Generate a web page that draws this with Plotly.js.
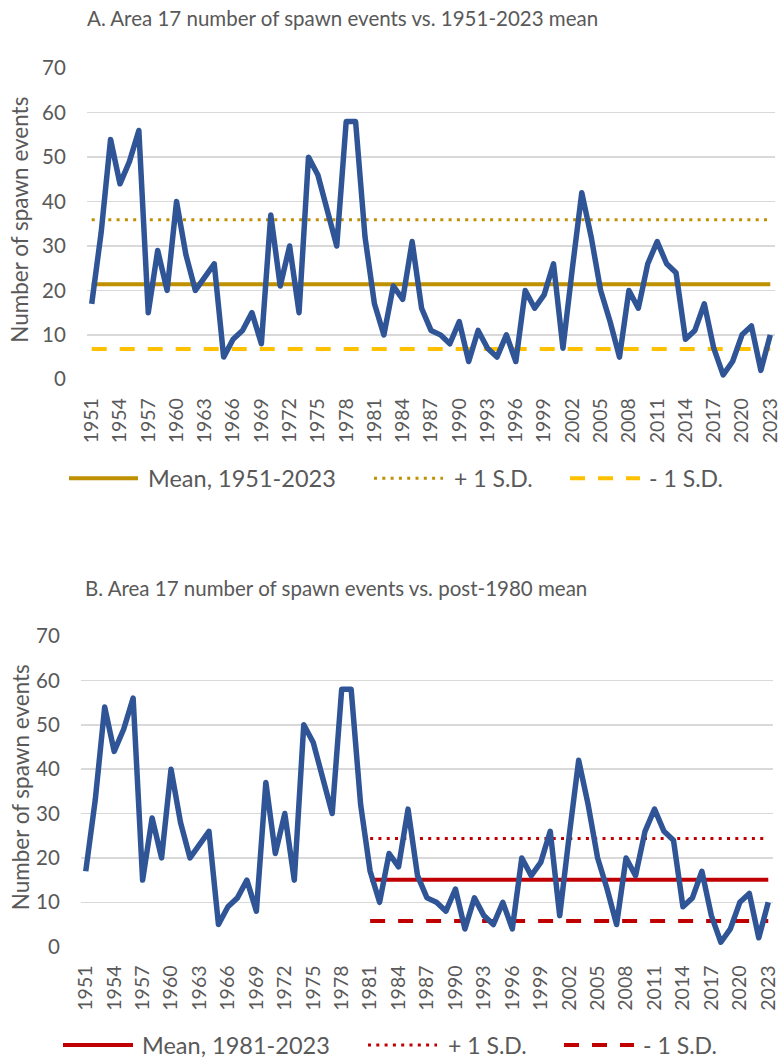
<!DOCTYPE html>
<html>
<head>
<meta charset="utf-8">
<script src="https://cdn.plot.ly/plotly-3.0.1.min.js"></script>
<style>
  html, body { margin: 0; padding: 0; background: #fff; }
  #chart { width: 780px; height: 1059px; }
  .scatterlayer .js-line { stroke-linejoin: round !important; }
</style>
</head>
<body>
<div id="chart"></div>
<script>
// ---------------- data ----------------
const years = [1951,1952,1953,1954,1955,1956,1957,1958,1959,1960,
               1961,1962,1963,1964,1965,1966,1967,1968,1969,1970,
               1971,1972,1973,1974,1975,1976,1977,1978,1979,1980,
               1981,1982,1983,1984,1985,1986,1987,1988,1989,1990,
               1991,1992,1993,1994,1995,1996,1997,1998,1999,2000,
               2001,2002,2003,2004,2005,2006,2007,2008,2009,2010,
               2011,2012,2013,2014,2015,2016,2017,2018,2019,2020,
               2021,2022,2023];
const spawnEvents = [17,33,54,44,49,56,15,29,20,40,
                     28,20,23,26,5,9,11,15,8,37,
                     21,30,15,50,46,38,30,58,58,32,
                     17,10,21,18,31,16,11,10,8,13,
                     4,11,7,5,10,4,20,16,19,26,
                     7,25,42,32,20,13,5,20,16,26,
                     31,26,24,9,11,17,7,1,4,10,
                     12,2,10];
const tickYears = [1951,1954,1957,1960,1963,1966,1969,1972,1975,1978,1981,1984,1987,
                   1990,1993,1996,1999,2002,2005,2008,2011,2014,2017,2020,2023];
const tickLabels = tickYears.map(String);

// Reference statistics
const meanAll = 21.4, plusSDAll = 35.9, minusSDAll = 6.8;      // 1951-2023
const meanPost = 15.1, plusSDPost = 24.4, minusSDPost = 5.8;   // 1981-2023
const periodAll = [1951, 2023];
const periodPost = [1981, 2023];

const titleA = 'A. Area 17 number of spawn events vs. 1951-2023 mean';
const titleB = 'B. Area 17 number of spawn events vs. post-1980 mean';
const yTitle = 'Number of spawn events';
const legendA = ['Mean, 1951-2023', '+ 1 S.D.', '- 1 S.D.'];
const legendB = ['Mean, 1981-2023', '+ 1 S.D.', '- 1 S.D.'];

// ---------------- style ----------------
const W = 780, H = 1059;
const px = x => x / W;
const py = y => 1 - y / H;
const FONT = 'Lato, "Open Sans", sans-serif';
const TXT = '#595959';
const BLUE = '#2F5597';
const GOLD = '#BF9000';
const YELLOW = '#FFC000';
const RED = '#C00000';
const DOT = '3px,5.3px';
const DASH = '15px,13px';

function xAxis(domain, anchor) {
  return {
    domain: domain, anchor: anchor, type: 'linear',
    range: [1950.5, 2023.5], showgrid: false, zeroline: false, showline: false,
    tickmode: 'array', tickvals: tickYears, ticktext: tickLabels, tickangle: -90,
    ticks: 'outside', ticklen: 10, tickcolor: 'rgba(0,0,0,0)',
    ticklabeloverflow: 'allow',
    tickfont: {family: FONT, size: 19.5, color: TXT}, fixedrange: true
  };
}
function yAxis(domain, anchor) {
  return {
    domain: domain, anchor: anchor, range: [0, 70], dtick: 10, tick0: 0,
    showgrid: true, gridcolor: '#D9D9D9', gridwidth: 1.5, zeroline: false, showline: false,
    ticks: 'outside', ticklen: 16, tickcolor: 'rgba(0,0,0,0)',
    tickfont: {family: FONT, size: 20.5, color: TXT}, fixedrange: true
  };
}

function hline(xa, ya, xs, val, color, width, dash) {
  return {x: xs, y: [val, val], xaxis: xa, yaxis: ya, mode: 'lines', type: 'scatter',
          line: {color: color, width: width, dash: dash}, hoverinfo: 'skip', showlegend: false};
}

const traces = [
  hline('x', 'y', periodAll, meanAll, GOLD, 4, 'solid'),
  hline('x', 'y', periodAll, plusSDAll, GOLD, 3, DOT),
  hline('x', 'y', periodAll, minusSDAll, YELLOW, 4, DASH),
  {x: years, y: spawnEvents, xaxis: 'x', yaxis: 'y', type: 'scatter', mode: 'lines',
   line: {color: BLUE, width: 5.5}, showlegend: false},
  hline('x2', 'y2', periodPost, meanPost, RED, 4, 'solid'),
  hline('x2', 'y2', periodPost, plusSDPost, RED, 3, DOT),
  hline('x2', 'y2', periodPost, minusSDPost, RED, 4, DASH),
  {x: years, y: spawnEvents, xaxis: 'x2', yaxis: 'y2', type: 'scatter', mode: 'lines',
   line: {color: BLUE, width: 5.5}, showlegend: false}
];

// geometry (pixels)
const A = {l: 87, r: 775, t: 68.3, b: 379.3};
const B = {l: 81, r: 773, t: 636, b: 946.7};

function legendShapes(y, items) {
  return items.map(it => ({type: 'line', xref: 'paper', yref: 'paper',
    x0: px(it[0]), x1: px(it[1]), y0: py(y), y1: py(y),
    line: {color: it[2], width: it[3], dash: it[4]}}));
}
function textAnn(x, y, text, size, anchor, angle) {
  return {xref: 'paper', yref: 'paper', x: px(x), y: py(y), text: text, showarrow: false,
          xanchor: anchor || 'left', yanchor: 'middle', textangle: angle || 0,
          font: {family: FONT, size: size, color: TXT}};
}

const shapes = [].concat(
  legendShapes(478.3, [[69, 138, GOLD, 4, 'solid'], [374, 443, GOLD, 3, DOT], [570, 640, YELLOW, 4, DASH]]),
  legendShapes(1045, [[63, 133, RED, 4, 'solid'], [368, 437, RED, 3, DOT], [564, 634, RED, 4, DASH]])
);

const annotations = [
  textAnn(85, 18, titleA, 20.5),
  textAnn(83, 588, titleB, 20.5),
  textAnn(20, (A.t + A.b) / 2 - 4, yTitle, 22.5, 'center', -90),
  textAnn(20, (B.t + B.b) / 2 - 4, yTitle, 22.5, 'center', -90),
  textAnn(146, 478.3, legendA[0], 23.5),
  textAnn(452, 478.3, legendA[1], 23),
  textAnn(647, 478.3, legendA[2], 23),
  textAnn(140, 1045, legendB[0], 23.5),
  textAnn(446, 1045, legendB[1], 23),
  textAnn(641, 1045, legendB[2], 23)
];

const layout = {
  width: W, height: H, margin: {l: 0, r: 0, t: 0, b: 0},
  paper_bgcolor: '#fff', plot_bgcolor: '#fff', showlegend: false,
  font: {family: FONT, color: TXT},
  xaxis: xAxis([px(A.l), px(A.r)], 'y'),
  yaxis: yAxis([py(A.b), py(A.t)], 'x'),
  xaxis2: xAxis([px(B.l), px(B.r)], 'y2'),
  yaxis2: yAxis([py(B.b), py(B.t)], 'x2'),
  shapes: shapes, annotations: annotations
};

Plotly.newPlot('chart', traces, layout, {staticPlot: true, displayModeBar: false});
</script>
</body>
</html>
